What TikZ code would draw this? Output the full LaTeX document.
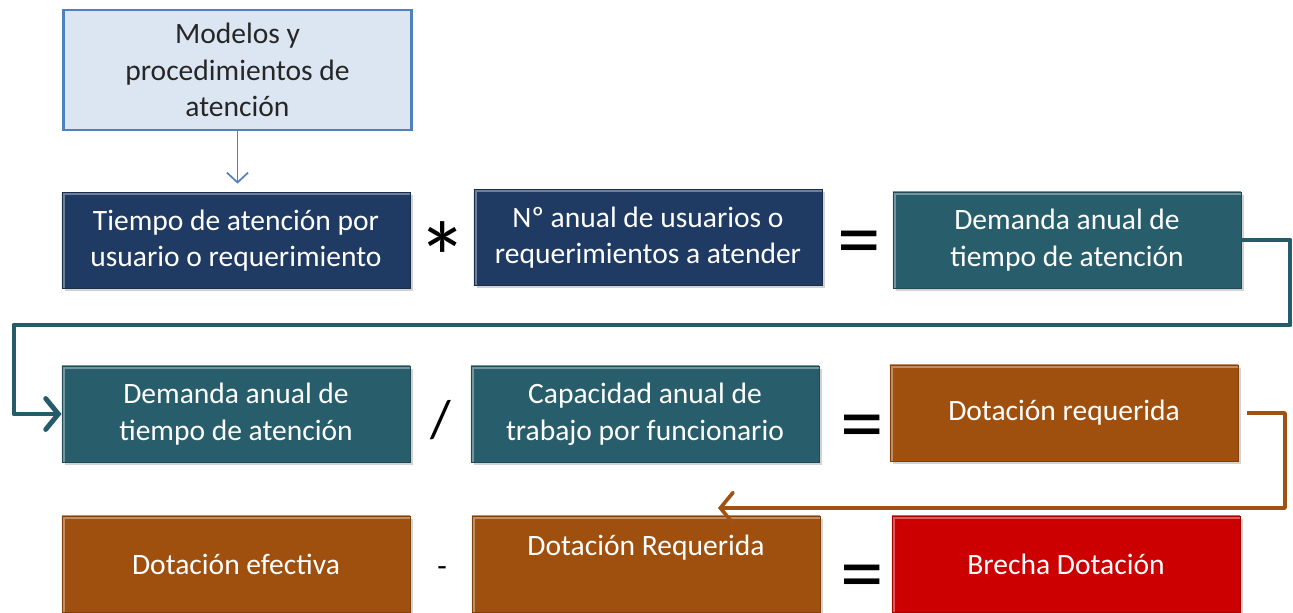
\documentclass[tikz,border=0pt]{standalone}
\usepackage{fontspec}
\setmainfont{Carlito}
\usetikzlibrary{arrows.meta}
\usetikzlibrary{shadows}

\definecolor{navybox}{RGB}{31,58,99}
\definecolor{tealbox}{RGB}{40,94,108}
\definecolor{brownbox}{RGB}{160,80,14}
\definecolor{redbox}{RGB}{204,0,0}
\definecolor{paleblue}{RGB}{220,230,242}
\definecolor{edgeblue}{RGB}{79,129,189}
\definecolor{tealline}{RGB}{38,92,106}
\definecolor{brownline}{RGB}{160,82,20}

\tikzset{
  box/.style = {rectangle, minimum width=8.7cm, minimum height=2.4cm,
    align=center, text=white, font=\fontsize{21}{26}\selectfont,
    draw=#1!80!black, line width=0.6pt, fill=#1,
    drop shadow={shadow xshift=2pt, shadow yshift=-2pt, opacity=0.35},
    path picture={
      \draw [#1!65!white, line width=4pt]
        (path picture bounding box.south west) -- (path picture bounding box.north west)
        -- (path picture bounding box.north east);}},
  notebox/.style = {rectangle, minimum width=8.7cm, minimum height=3cm,
    align=center, text=black!85, font=\fontsize{21}{26}\selectfont,
    draw=edgeblue, line width=2pt, fill=paleblue},
  oper/.style = {font=\fontsize{62}{62}\selectfont, text=black, inner sep=0pt},
  link/.style = {line width=3.5pt, line join=round,
    -{Straight Barb[length=9pt, width=22pt, line cap=round]}}
}

\begin{document}
\begin{tikzpicture}[x=0.025cm, y=-0.025cm]
  \clip (0, 0) rectangle (1293, 612);
  \fill [white] (0, 0) rectangle (1293, 612);

  % primer renglon
  \node [notebox] (modelos) at (237.5, 70) {Modelos y\\procedimientos de\\atención};
  \node [box=navybox] (tiempo) at (236, 240.5) {Tiempo de atención por\\usuario o requerimiento};
  \node [oper, font=\fontsize{72}{72}\selectfont] (por) at (443, 258) {*};
  \node [box=navybox] (usuarios) at (648, 237.5) {Nº anual de usuarios o\\requerimientos a atender};
  \node [oper] (igualA) at (859, 250) {=};
  \node [box=tealbox] (demanda) at (1067, 240) {Demanda anual de\\tiempo de atención};

  % segundo renglon
  \node [box=tealbox] (demandaB) at (236, 414) {Demanda anual de\\tiempo de atención};
  \node [oper, font=\fontsize{38}{38}\selectfont] (entre) at (441, 420) {/};
  \node [box=tealbox] (capacidad) at (645, 414) {Capacidad anual de\\trabajo por funcionario};
  \node [oper] (igualB) at (862, 434) {=};
  \node [box=brownbox] (requerida) at (1064, 413) {Dotación requerida};

  % tercer renglon
  \node [box=brownbox] (efectiva) at (236, 564) {Dotación efectiva};
  \node [oper, font=\fontsize{22}{22}\selectfont] (menos) at (442, 572) {-};
  \node [box=brownbox] (requeridaB) at (646, 564) {Dotación Requerida\\~};
  \node [oper] (igualC) at (862, 584) {=};
  \node [box=redbox] (brecha) at (1066, 564) {Brecha Dotación};

  % conectores
  \coordinate (vueltaR) at (1290, 325);
  \coordinate (vueltaL) at (14, 325);
  \coordinate (bajadaR) at (1285, 508);
  \coordinate (llegada) at (718, 508);

  \draw [edgeblue, line width=1.2pt, -{Straight Barb[length=7pt, width=15pt]}]
    (modelos.south) -- ([yshift=6pt] modelos.south |- tiempo.north);
  \draw [link, tealline] (demanda.east) -| (vueltaR) -- (vueltaL) |- (demandaB.west);
  \draw [link, brownline, line width=2.6pt] ([xshift=6pt] requerida.east) -| (bajadaR) -- (llegada);
\end{tikzpicture}
\end{document}
